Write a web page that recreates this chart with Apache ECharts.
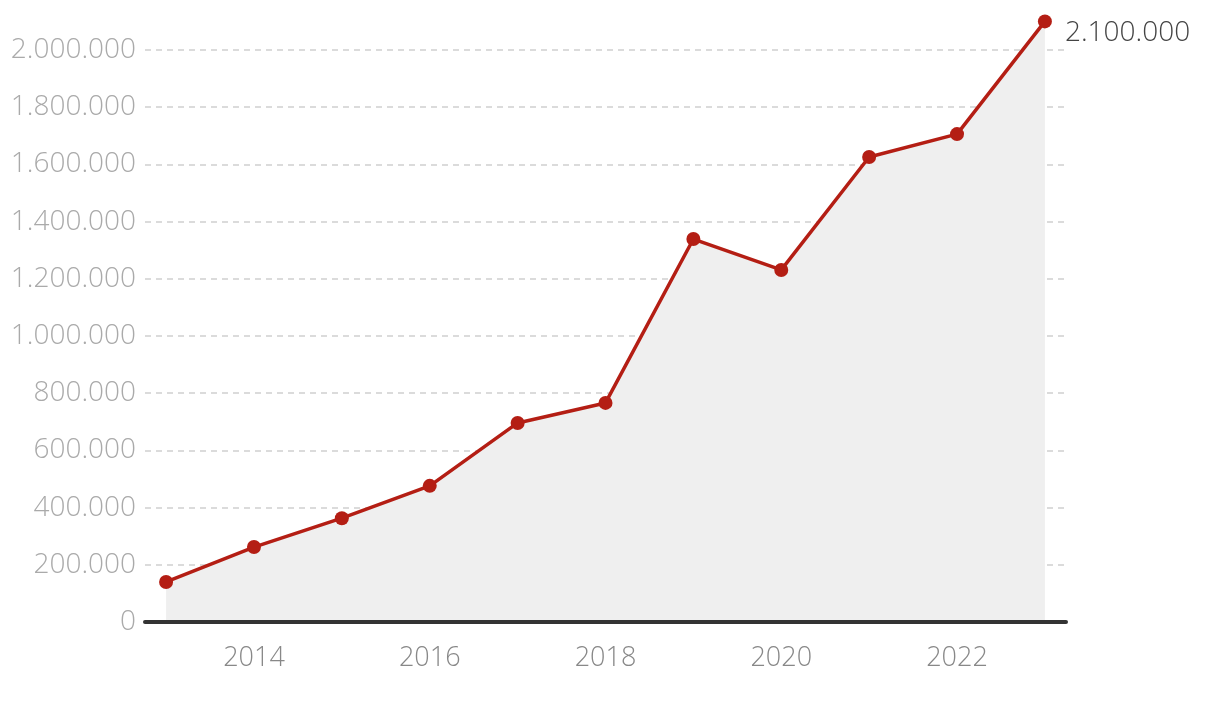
<!DOCTYPE html>
<html>
<head>
<meta charset="utf-8">
<script src="https://cdn.jsdelivr.net/npm/echarts@6/dist/echarts.min.js"></script>
<style>
html,body{margin:0;padding:0;background:#fff;}
#c{width:1220px;height:728px;}
</style>
</head>
<body>
<div id="c"></div>
<script>
const years = [2013, 2014, 2015, 2016, 2017, 2018, 2019, 2020, 2021, 2022, 2023];
const values = [140000, 262000, 363000, 476000, 696000, 766000, 1339000, 1231000, 1626000, 1706000, 2100000];
const xTickYears = [2014, 2016, 2018, 2020, 2022];
const yTicks = [0, 200000, 400000, 600000, 800000, 1000000, 1200000, 1400000, 1600000, 1800000, 2000000];

function fmt(v) {
  return String(v).replace(/\B(?=(\d{3})+(?!\d))/g, '.');
}

const chart = echarts.init(document.getElementById('c'));
const data = years.map((y, i) => {
  const item = { value: [y, values[i]] };
  if (i === years.length - 1) {
    item.label = {
      show: true,
      position: 'right',
      offset: [8, 12],
      formatter: () => fmt(values[i]),
      color: '#444',
      fontFamily: 'Open Sans',
      fontWeight: 300,
      fontSize: 28
    };
  }
  return item;
});

chart.setOption({
  animation: false,
  grid: { left: 145, right: 154, top: 50, bottom: 106, containLabel: false },
  xAxis: {
    type: 'value',
    min: 2012.76,
    max: 2023.24,
    z: 10,
    axisLine: { show: true, lineStyle: { color: '#333', width: 4 } },
    axisTick: { show: false },
    splitLine: { show: false },
    axisLabel: {
      customValues: xTickYears,
      color: '#888',
      fontFamily: 'Open Sans',
      fontWeight: 300,
      fontSize: 27,
      margin: 23,
      formatter: v => String(v)
    }
  },
  yAxis: {
    type: 'value',
    min: 0,
    max: 2000000,
    interval: 200000,
    axisLine: { show: false },
    axisTick: { show: false },
    splitLine: { show: true, lineStyle: { color: '#cfcfcf', type: [6, 5], width: 1.5 } },
    axisLabel: {
      color: '#aaa',
      fontFamily: 'Open Sans',
      fontWeight: 300,
      fontSize: 28,
      margin: 9,
      verticalAlign: 'middle',
      lineHeight: 30,
      padding: [3, 0, 0, 0],
      formatter: v => fmt(v)
    }
  },
  series: [{
    type: 'line',
    data: data,
    clip: false,
    symbol: 'circle',
    symbolSize: 14,
    lineStyle: { color: '#b41e14', width: 3.5 },
    itemStyle: { color: '#b41e14' },
    areaStyle: { color: '#efefef', opacity: 1 },
    z: 3
  }]
});
</script>
</body>
</html>
